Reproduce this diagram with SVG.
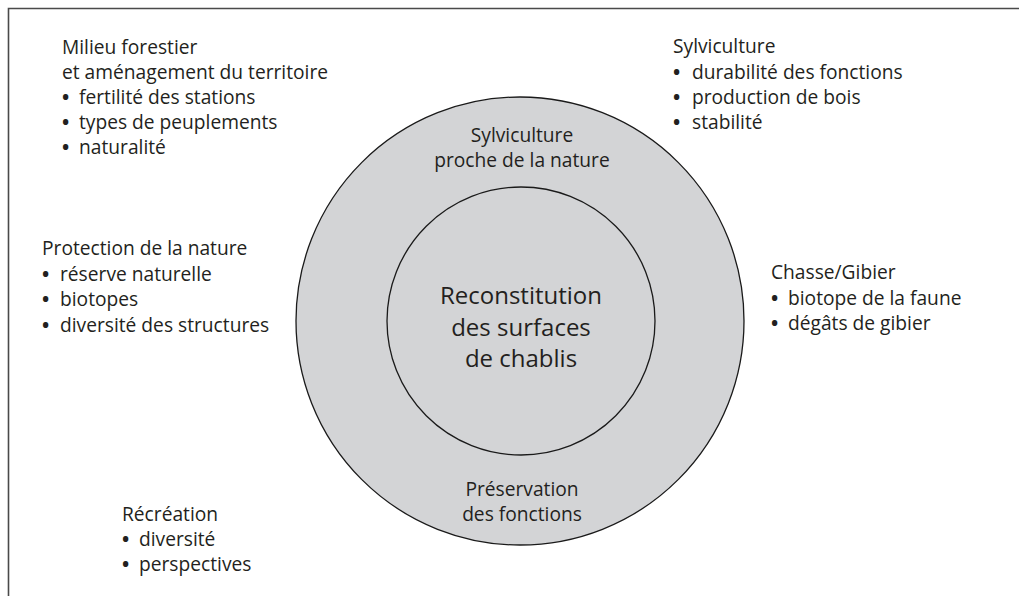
<svg xmlns="http://www.w3.org/2000/svg" width="1019" height="596" viewBox="0 0 1019 596">
<style>
text{font-family:"Open Sans","Liberation Sans",sans-serif;fill:#231f20;}
.s{font-size:19.2px;}
.b{font-weight:bold;}
.c{font-size:19.2px;text-anchor:middle;}
.big{font-size:24px;text-anchor:middle;}
.ring{stroke:#1a1a1a;stroke-width:1.3;fill:#d3d4d6;}
</style>
<rect width="1019" height="596" fill="#ffffff"/>
<g id="frame" fill="none" stroke="#4a4a4a" stroke-width="1.6">
<path d="M8.5,596 V8.5 H1019"/>
</g>
<g id="outer-ring">
<circle class="ring" cx="520" cy="321" r="224"/>
<text class="c" x="522" y="142">Sylviculture</text>
<text class="c" x="522" y="167">proche de la nature</text>
<text class="c" x="522" y="496">Préservation</text>
<text class="c" x="522" y="521">des fonctions</text>
</g>
<g id="inner-core">
<circle class="ring" cx="521" cy="321" r="134"/>
<text class="big" x="521" y="304">Reconstitution</text>
<text class="big" x="521" y="336">des surfaces</text>
<text class="big" x="521" y="367">de chablis</text>
</g>
<g id="milieu">
<text class="s" x="62" y="54">Milieu forestier</text>
<text class="s" x="62" y="79">et aménagement du territoire</text>
<text class="s" y="104"><tspan class="b" x="62">•</tspan><tspan x="79">fertilité des stations</tspan></text>
<text class="s" y="129"><tspan class="b" x="62">•</tspan><tspan x="79">types de peuplements</tspan></text>
<text class="s" y="154"><tspan class="b" x="62">•</tspan><tspan x="79">naturalité</tspan></text>
</g>
<g id="sylviculture">
<text class="s" x="673" y="53">Sylviculture</text>
<text class="s" y="79"><tspan class="b" x="673">•</tspan><tspan x="692">durabilité des fonctions</tspan></text>
<text class="s" y="104"><tspan class="b" x="673">•</tspan><tspan x="692">production de bois</tspan></text>
<text class="s" y="129"><tspan class="b" x="673">•</tspan><tspan x="692">stabilité</tspan></text>
</g>
<g id="protection">
<text class="s" x="42" y="255">Protection de la nature</text>
<text class="s" y="281"><tspan class="b" x="42">•</tspan><tspan x="60">réserve naturelle</tspan></text>
<text class="s" y="306"><tspan class="b" x="42">•</tspan><tspan x="60">biotopes</tspan></text>
<text class="s" y="332"><tspan class="b" x="42">•</tspan><tspan x="60">diversité des structures</tspan></text>
</g>
<g id="chasse">
<text class="s" x="771" y="279">Chasse/Gibier</text>
<text class="s" y="305"><tspan class="b" x="771">•</tspan><tspan x="788">biotope de la faune</tspan></text>
<text class="s" y="330"><tspan class="b" x="771">•</tspan><tspan x="788">dégâts de gibier</tspan></text>
</g>
<g id="recreation">
<text class="s" x="122" y="521">Récréation</text>
<text class="s" y="546"><tspan class="b" x="122">•</tspan><tspan x="139">diversité</tspan></text>
<text class="s" y="571"><tspan class="b" x="122">•</tspan><tspan x="139">perspectives</tspan></text>
</g>
<g id="connectors"/>
</svg>
